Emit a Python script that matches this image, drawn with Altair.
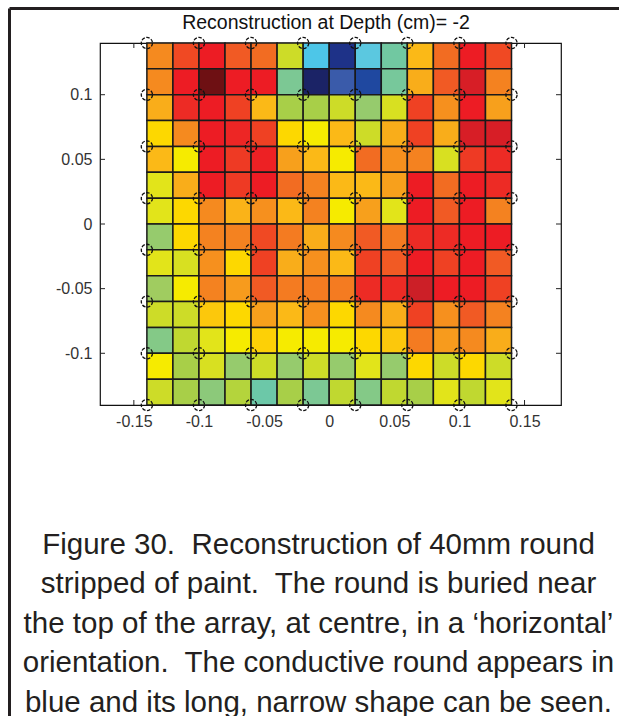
import altair as alt
import pandas as pd

# ---- data -------------------------------------------------------------
# cell edges (m) of the 14 x 14 reconstruction grid
x_edges = [-0.14, -0.12, -0.10, -0.08, -0.06, -0.04, -0.02, 0.0,
           0.02, 0.04, 0.06, 0.08, 0.10, 0.12, 0.14]
y_edges = [0.14, 0.12, 0.10, 0.08, 0.06, 0.04, 0.02, 0.0,
           -0.02, -0.04, -0.06, -0.08, -0.10, -0.12, -0.14]

# reconstructed intensity (normalised), one list per row, top to bottom
r01 = [0.78, 0.86, 0.93, 0.84, 0.82, 0.54, 0.25, 0.03, 0.27, 0.36, 0.70, 0.82, 0.93, 0.86]
r02 = [0.78, 0.93, 1.00, 0.93, 0.93, 0.38, 0.00, 0.12, 0.07, 0.37, 0.72, 0.84, 0.95, 0.79]
r03 = [0.72, 0.90, 0.93, 0.87, 0.70, 0.48, 0.48, 0.54, 0.44, 0.56, 0.87, 0.77, 0.93, 0.74]
r04 = [0.66, 0.78, 0.93, 0.91, 0.87, 0.66, 0.62, 0.70, 0.54, 0.72, 0.87, 0.72, 0.95, 0.95]
r05 = [0.70, 0.62, 0.93, 0.88, 0.92, 0.74, 0.70, 0.62, 0.82, 0.77, 0.79, 0.56, 0.88, 0.90]
r06 = [0.58, 0.72, 0.93, 0.88, 0.93, 0.82, 0.79, 0.70, 0.70, 0.74, 0.93, 0.82, 0.93, 0.90]
r07 = [0.58, 0.66, 0.78, 0.71, 0.77, 0.70, 0.79, 0.62, 0.74, 0.58, 0.93, 0.84, 0.93, 0.79]
r08 = [0.44, 0.66, 0.79, 0.79, 0.86, 0.80, 0.72, 0.78, 0.84, 0.80, 0.90, 0.90, 0.93, 0.93]
r09 = [0.58, 0.56, 0.77, 0.66, 0.87, 0.72, 0.77, 0.70, 0.87, 0.84, 0.93, 0.87, 0.93, 0.84]
r10 = [0.46, 0.62, 0.79, 0.75, 0.84, 0.80, 0.80, 0.80, 0.90, 0.90, 0.96, 0.93, 0.93, 0.87]
r11 = [0.54, 0.54, 0.68, 0.66, 0.74, 0.70, 0.77, 0.66, 0.78, 0.72, 0.87, 0.77, 0.84, 0.79]
r12 = [0.40, 0.52, 0.58, 0.62, 0.67, 0.62, 0.62, 0.62, 0.66, 0.68, 0.80, 0.75, 0.78, 0.72]
r13 = [0.62, 0.48, 0.56, 0.44, 0.54, 0.44, 0.54, 0.44, 0.58, 0.44, 0.66, 0.54, 0.66, 0.54]
r14 = [0.54, 0.48, 0.42, 0.50, 0.35, 0.48, 0.38, 0.52, 0.40, 0.52, 0.48, 0.58, 0.52, 0.58]
rows = [r01, r02, r03, r04, r05, r06, r07, r08, r09, r10, r11, r12, r13, r14]

# electrode positions
sensor_x = [-0.14, -0.10, -0.06, -0.02, 0.02, 0.06, 0.10, 0.14]
sensor_y = [-0.14, -0.10, -0.06, -0.02, 0.02, 0.06, 0.10, 0.14]

# axis ticks
x_ticks = [-0.15, -0.1, -0.05, 0, 0.05, 0.1, 0.15]
y_ticks = [-0.1, -0.05, 0, 0.05, 0.1]

NB = "\u00a0"  # keeps the double spaces after full stops
title_text = "Reconstruction at Depth (cm)= -2"
caption_lines = [
    "Figure 30." + NB + " Reconstruction of 40mm round",
    "stripped of paint." + NB + " The round is buried near",
    "the top of the array, at centre, in a \u2018horizontal\u2019",
    "orientation." + NB + " The conductive round appears in",
    "blue and its long, narrow shape can be seen.",
]

# printed jet-like colour map
cmap_stops = [0.00, 0.03, 0.07, 0.12, 0.25, 0.27, 0.35, 0.38, 0.42, 0.46, 0.48,
              0.52, 0.54, 0.58, 0.62, 0.66, 0.70, 0.74, 0.78, 0.82, 0.84, 0.87,
              0.90, 0.93, 0.96, 1.00]
cmap_colors = ["#1B2366", "#1E3288", "#1F48A0", "#3A5BAA", "#4DC6E8", "#5BC8E0",
               "#6CC8A8", "#7CC894", "#8CC97A", "#A0CC60", "#A8CF48", "#C0D830",
               "#CDDC28", "#E2E41A", "#F6EB00", "#FDD800", "#FBB917", "#F7A01C",
               "#F58A1F", "#F26C22", "#F15A24", "#EF4123", "#ED2B25", "#ED1C24",
               "#CC1F27", "#6E1013"]

# ---- tables -----------------------------------------------------------
cells = []
for i, row in enumerate(rows):
    for j, v in enumerate(row):
        cells.append({"x0": x_edges[j], "x1": x_edges[j + 1],
                      "y0": y_edges[i + 1], "y1": y_edges[i], "v": v})
cells = pd.DataFrame(cells)
sensors = pd.DataFrame([{"sx": a, "sy": b} for a in sensor_x for b in sensor_y])
xt = pd.DataFrame({"t": x_ticks})
yt = pd.DataFrame({"t": y_ticks})

W, H = 461, 362
FONT = "Liberation Sans, Arial, Helvetica, sans-serif"
xs = alt.Scale(domain=[-0.176, 0.178], nice=False, zero=False)
ys = alt.Scale(domain=[-0.14, 0.14], nice=False, zero=False)

# inward ticks (drawn beneath the image, as in the original)
tick_col = "#222222"
xt_bottom = alt.Chart(xt).mark_rule(color=tick_col, strokeWidth=1).encode(
    x=alt.X("t:Q", scale=xs), y=alt.value(H), y2=alt.value(H - 5))
xt_top = alt.Chart(xt).mark_rule(color=tick_col, strokeWidth=1).encode(
    x=alt.X("t:Q", scale=xs), y=alt.value(0), y2=alt.value(5))
yt_left = alt.Chart(yt).mark_rule(color=tick_col, strokeWidth=1).encode(
    y=alt.Y("t:Q", scale=ys), x=alt.value(0), x2=alt.value(5))
yt_right = alt.Chart(yt).mark_rule(color=tick_col, strokeWidth=1).encode(
    y=alt.Y("t:Q", scale=ys), x=alt.value(W), x2=alt.value(W - 5))

heat = alt.Chart(cells).mark_rect(stroke="#1a1a1a", strokeWidth=1.5).encode(
    x=alt.X("x0:Q", scale=xs,
            axis=alt.Axis(values=x_ticks, labelExpr="'' + datum.value",
                          title=caption_lines, titleFontSize=29.5,
                          titleFont=FONT, titleFontWeight="normal",
                          titleColor="#231F20", titleLineHeight=39.5,
                          titleBaseline="alphabetic", titleAlign="center",
                          titleX=218, titleY=148, labelPadding=8)),
    x2="x1:Q",
    y=alt.Y("y0:Q", scale=ys,
            axis=alt.Axis(values=y_ticks, labelExpr="'' + datum.value",
                          title=None, labelPadding=8)),
    y2="y1:Q",
    color=alt.Color("v:Q", scale=alt.Scale(domain=cmap_stops, range=cmap_colors,
                                           interpolate="rgb"), legend=None),
)

circles = alt.Chart(sensors).mark_point(
    shape="circle", filled=False, color="#111111", size=125,
    strokeWidth=1.3, strokeDash=[3.5, 1.5], opacity=1
).encode(x=alt.X("sx:Q", scale=xs), y=alt.Y("sy:Q", scale=ys))

# page frame of the figure and the plot title above the axes
frame_df = pd.DataFrame({"k": [0]})
frame_top = alt.Chart(frame_df).mark_rule(color="#231F20", strokeWidth=3).encode(
    x=alt.value(-90.5), x2=alt.value(W + 80), y=alt.value(-34.5))
frame_left = alt.Chart(frame_df).mark_rule(color="#231F20", strokeWidth=3).encode(
    x=alt.value(-90.5), y=alt.value(-34.5), y2=alt.value(H + 330))
title_mark = alt.Chart(frame_df).mark_text(
    font=FONT, fontSize=19.5, color="#111111", align="center",
    baseline="alphabetic"
).encode(x=alt.value(226), y=alt.value(-14), text=alt.value(title_text))

chart = alt.layer(
    xt_bottom, xt_top, yt_left, yt_right, heat, circles,
    frame_top, frame_left, title_mark
).properties(
    width=W, height=H,
    autosize=alt.AutoSizeParams(type="none"),
    padding={"left": 100, "top": 43, "right": 58, "bottom": 311},
).configure_view(
    stroke="#111111", strokeWidth=1.2
).configure_axis(
    domain=False, ticks=False, grid=False, labelFont=FONT, labelFontSize=16,
    labelColor="#333333"
)

chart.save("out.html", embed_options={"renderer": "svg", "actions": False})
